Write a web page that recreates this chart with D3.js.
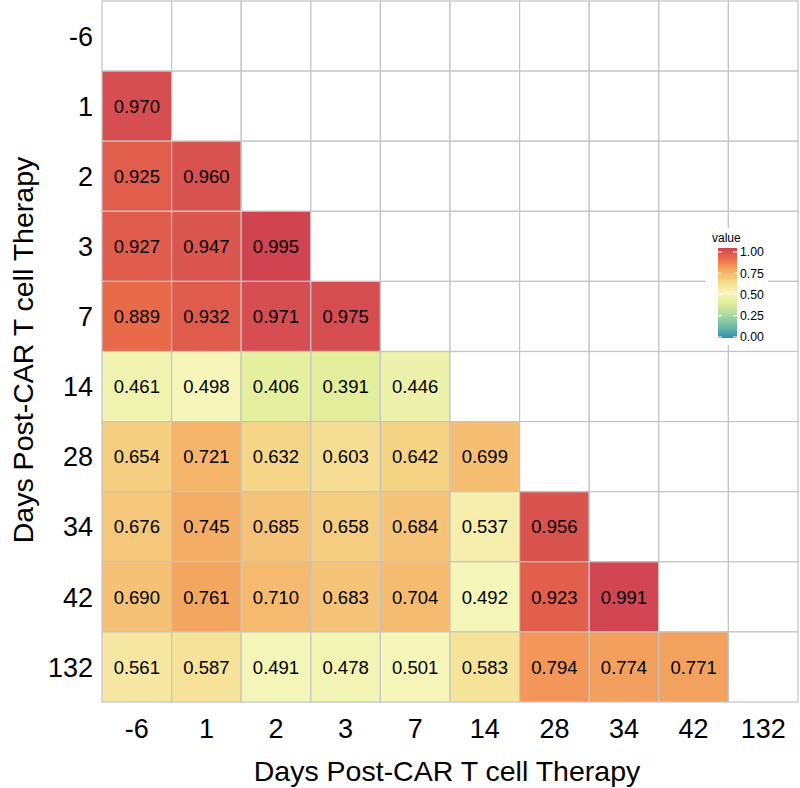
<!DOCTYPE html>
<html>
<head>
<meta charset="utf-8">
<script src="https://cdn.jsdelivr.net/npm/d3@7"></script>
<style>
  body { margin: 0; background: #fff; }
  svg { font-family: "Liberation Sans", Arial, sans-serif; }
</style>
</head>
<body>
<svg id="canvas_svg" width="800" height="788"></svg>
<script>
// days (same list on both axes)
var days = ["-6", "1", "2", "3", "7", "14", "28", "34", "42", "132"];

// lower triangle, one row per y-day, values for x-days -6 .. up to the day before
var row_1   = [0.970];
var row_2   = [0.925, 0.960];
var row_3   = [0.927, 0.947, 0.995];
var row_7   = [0.889, 0.932, 0.971, 0.975];
var row_14  = [0.461, 0.498, 0.406, 0.391, 0.446];
var row_28  = [0.654, 0.721, 0.632, 0.603, 0.642, 0.699];
var row_34  = [0.676, 0.745, 0.685, 0.658, 0.684, 0.537, 0.956];
var row_42  = [0.690, 0.761, 0.710, 0.683, 0.704, 0.492, 0.923, 0.991];
var row_132 = [0.561, 0.587, 0.491, 0.478, 0.501, 0.583, 0.794, 0.774, 0.771];

var rows = [[], row_1, row_2, row_3, row_7, row_14, row_28, row_34, row_42, row_132];

var legendTicks = [0, 0.25, 0.5, 0.75, 1];

var svg = d3.select("#canvas_svg"),
    w = 800, h = 788;

// build tiles, empty ones too (they get a white fill)
var cells = [];
days.forEach(function(yd, i) {
  days.forEach(function(xd, j) {
    var v = j < rows[i].length ? rows[i][j] : null;
    cells.push({x: xd, y: yd, value: v});
  });
});

var x = d3.scaleBand().domain(days).range([102, 798]);
var y = d3.scaleBand().domain(days).range([1, 702]);

// Spectral (9), reversed so red = high
var spectral = ["#3288BD", "#66C2A5", "#ABDDA4", "#E6F598", "#FFFFBF",
                "#FEE08B", "#FDAE61", "#F46D43", "#D53E4F"];
var color = d3.scaleLinear()
  .domain(d3.range(9).map(function(k) { return k / 8; }))
  .range(spectral)
  .interpolate(d3.interpolateLab);

function tileFill(d) {
  if (d.value === null) return "#ffffff";
  // a bit greyed, like the original
  return d3.interpolateRgb(color(d.value), "#808080")(0.07);
}

svg.append("g")
  .attr("class", "tiles")
  .selectAll("rect")
  .data(cells)
  .enter()
  .append("rect")
  .attr("x", function(d) { return x(d.x); })
  .attr("y", function(d) { return y(d.y); })
  .attr("width", x.bandwidth())
  .attr("height", y.bandwidth())
  .attr("fill", tileFill)
  .attr("stroke", "#c4c4c4")
  .attr("stroke-width", 1.2);

svg.append("g")
  .attr("class", "labels")
  .selectAll("text")
  .data(cells.filter(function(d) { return d.value !== null; }))
  .enter()
  .append("text")
  .attr("x", function(d) { return x(d.x) + x.bandwidth() / 2; })
  .attr("y", function(d) { return y(d.y) + y.bandwidth() / 2; })
  .attr("dy", "0.36em")
  .attr("text-anchor", "middle")
  .attr("font-size", 18.5)
  .attr("fill", "#000")
  .text(function(d) { return d.value.toFixed(3); });

// axes, no lines or ticks
var xAxis = d3.axisBottom(x).tickSize(0).tickPadding(0);
var yAxis = d3.axisLeft(y).tickSize(0).tickPadding(0);

var gx = svg.append("g")
  .attr("class", "x axis")
  .attr("transform", "translate(0, 738)")
  .call(xAxis);
gx.select(".domain").remove();
gx.selectAll("text").attr("font-size", 27).attr("fill", "#000")
  .attr("font-family", "Liberation Sans, Arial, sans-serif").attr("dy", 0);

var gy = svg.append("g")
  .attr("class", "y axis")
  .attr("transform", "translate(93, 0)")
  .call(yAxis);
gy.select(".domain").remove();
gy.selectAll("text").attr("font-size", 27).attr("fill", "#000")
  .attr("font-family", "Liberation Sans, Arial, sans-serif").attr("dy", "0.36em");

svg.append("text")
  .attr("x", 447)
  .attr("y", 781)
  .attr("text-anchor", "middle")
  .attr("font-size", 28.5)
  .text("Days Post-CAR T cell Therapy");

svg.append("text")
  .attr("transform", "translate(33, 350) rotate(-90)")
  .attr("text-anchor", "middle")
  .attr("font-size", 28.5)
  .text("Days Post-CAR T cell Therapy");

// legend (colourbar)
var legend = svg.append("g").attr("class", "legend");
legend.append("rect")
  .attr("x", 706).attr("y", 228)
  .attr("width", 62).attr("height", 117)
  .attr("fill", "#fff");

legend.append("text")
  .attr("x", 712).attr("y", 242)
  .attr("font-size", 12)
  .text("value");

var grad = svg.append("defs").append("linearGradient")
  .attr("id", "grad")
  .attr("x1", 0).attr("y1", 1).attr("x2", 0).attr("y2", 0);
d3.range(0, 1.0001, 0.05).forEach(function(t) {
  grad.append("stop")
    .attr("offset", t)
    .attr("stop-color", tileFill({value: t}));
});

var lg = d3.scaleLinear().domain([0, 1]).range([337, 252]);

legend.append("rect")
  .attr("x", 718).attr("y", 248)
  .attr("width", 19).attr("height", 90)
  .attr("fill", "url(#grad)");

legend.selectAll("line.tl")
  .data(legendTicks)
  .enter()
  .append("line")
  .attr("class", "tl")
  .attr("x1", 718).attr("x2", 722)
  .attr("y1", function(d) { return lg(d); })
  .attr("y2", function(d) { return lg(d); })
  .attr("stroke", "#fff").attr("stroke-width", 1);

legend.selectAll("line.tr")
  .data(legendTicks)
  .enter()
  .append("line")
  .attr("class", "tr")
  .attr("x1", 733).attr("x2", 737)
  .attr("y1", function(d) { return lg(d); })
  .attr("y2", function(d) { return lg(d); })
  .attr("stroke", "#fff").attr("stroke-width", 1);

legend.selectAll("text.tick")
  .data(legendTicks)
  .enter()
  .append("text")
  .attr("class", "tick")
  .attr("x", 740)
  .attr("y", function(d) { return lg(d); })
  .attr("dy", "0.36em")
  .attr("font-size", 12.3)
  .text(function(d) { return d.toFixed(2); });
</script>
</body>
</html>
